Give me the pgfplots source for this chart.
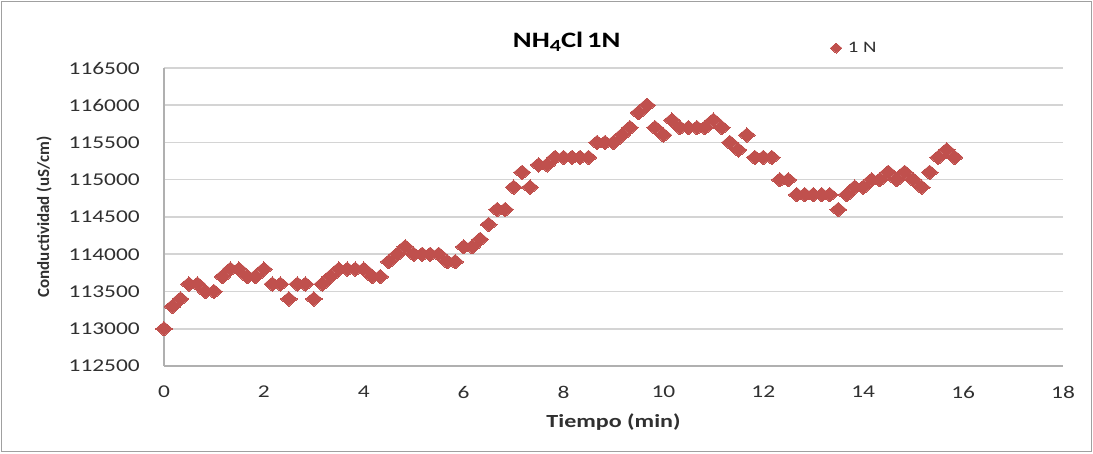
\documentclass[border=0pt]{standalone}
\usepackage{fontspec}
\setmainfont{Carlito}[FakeStretch=1.3]
\newfontfamily\narrowfont{Carlito}
\usepackage{pgfplots}
\pgfplotsset{compat=1.18}
\definecolor{mred}{HTML}{C0504D}
\definecolor{gridgray}{HTML}{D4D4D4}
\definecolor{axgray}{HTML}{B0B0B0}
\definecolor{framegray}{HTML}{A0A0A0}
\definecolor{txt}{HTML}{303030}
\begin{document}
\begin{tikzpicture}
\useasboundingbox (0pt,0pt) rectangle (1093pt,453pt);
\draw[color=framegray, line width=1.2pt] (1.5pt,1.5pt) rectangle (1091.5pt,451.5pt);
\begin{axis}[
  at={(164pt,87pt)}, anchor=south west,
  scale only axis, width=899pt, height=298pt,
  xmin=0, xmax=18, ymin=112500, ymax=116500,
  xtick={0,2,4,6,8,10,12,14,16,18},
  ytick={112500,113000,113500,114000,114500,115000,115500,116000,116500},
  scaled y ticks=false,
  /pgf/number format/assume math mode=true,
  /pgf/number format/fixed,
  /pgf/number format/precision=0,
  /pgf/number format/1000 sep={},
  axis x line*=bottom, axis y line*=left,
  axis line style={draw=axgray, line width=1.2pt, -},
  major tick length=0pt,
  ymajorgrids, major grid style={draw=gridgray, line width=1.5pt},
  x tick label style={anchor=center, yshift=-26pt, inner sep=0pt, font=\fontsize{18}{20}\selectfont, text=txt},
  y tick label style={anchor=east, xshift=-24pt, inner sep=0pt, font=\fontsize{18}{20}\selectfont, text=txt},
  title={NH\raisebox{-0.45ex}{\fontsize{17}{17}\selectfont 4}Cl\hspace{4pt}1N},
  title style={at={(axis description cs:0.448,1.068)}, anchor=center, font=\bfseries\fontsize{22}{25}\selectfont, text=black},
  xlabel={Tiempo (min)},
  xlabel style={at={(axis description cs:0.5,-0.188)}, anchor=center, font=\bfseries\fontsize{18.5}{22}\selectfont, text=txt},
  ylabel={Conductividad (uS/cm)},
  ylabel style={at={(axis description cs:-0.1335,0.5)}, anchor=center, font=\narrowfont\bfseries\fontsize{17}{20}\selectfont, text=txt},
  legend style={at={(axis description cs:0.768,1.067)}, anchor=center, draw=none, fill=none, font=\fontsize{16}{19}\selectfont, text=txt, inner sep=0pt},
  legend image post style={mark size=5pt},
  clip=false,
]
\addplot[only marks, mark=diamond*, mark size=7.2pt, color=mred,
  mark options={fill=mred, draw=mred, line width=0pt, xscale=1.55}]
  table[row sep=\\] {
x y\\
0.00 113000\\
0.17 113300\\
0.33 113400\\
0.50 113600\\
0.67 113600\\
0.83 113500\\
1.00 113500\\
1.17 113700\\
1.33 113800\\
1.50 113800\\
1.67 113700\\
1.83 113700\\
2.00 113800\\
2.17 113600\\
2.33 113600\\
2.50 113400\\
2.67 113600\\
2.83 113600\\
3.00 113400\\
3.17 113600\\
3.33 113700\\
3.50 113800\\
3.67 113800\\
3.83 113800\\
4.00 113800\\
4.17 113700\\
4.33 113700\\
4.50 113900\\
4.67 114000\\
4.83 114100\\
5.00 114000\\
5.17 114000\\
5.33 114000\\
5.50 114000\\
5.67 113900\\
5.83 113900\\
6.00 114100\\
6.17 114100\\
6.33 114200\\
6.50 114400\\
6.67 114600\\
6.83 114600\\
7.00 114900\\
7.17 115100\\
7.33 114900\\
7.50 115200\\
7.67 115200\\
7.83 115300\\
8.00 115300\\
8.17 115300\\
8.33 115300\\
8.50 115300\\
8.67 115500\\
8.83 115500\\
9.00 115500\\
9.17 115600\\
9.33 115700\\
9.50 115900\\
9.67 116000\\
9.83 115700\\
10.00 115600\\
10.17 115800\\
10.33 115700\\
10.50 115700\\
10.67 115700\\
10.83 115700\\
11.00 115800\\
11.17 115700\\
11.33 115500\\
11.50 115400\\
11.67 115600\\
11.83 115300\\
12.00 115300\\
12.17 115300\\
12.33 115000\\
12.50 115000\\
12.67 114800\\
12.83 114800\\
13.00 114800\\
13.17 114800\\
13.33 114800\\
13.50 114600\\
13.67 114800\\
13.83 114900\\
14.00 114900\\
14.17 115000\\
14.33 115000\\
14.50 115100\\
14.67 115000\\
14.83 115100\\
15.00 115000\\
15.17 114900\\
15.33 115100\\
15.50 115300\\
15.67 115400\\
15.83 115300\\
};
\addlegendentry{\hspace{4pt}1 N}
\end{axis}
\end{tikzpicture}
\end{document}
